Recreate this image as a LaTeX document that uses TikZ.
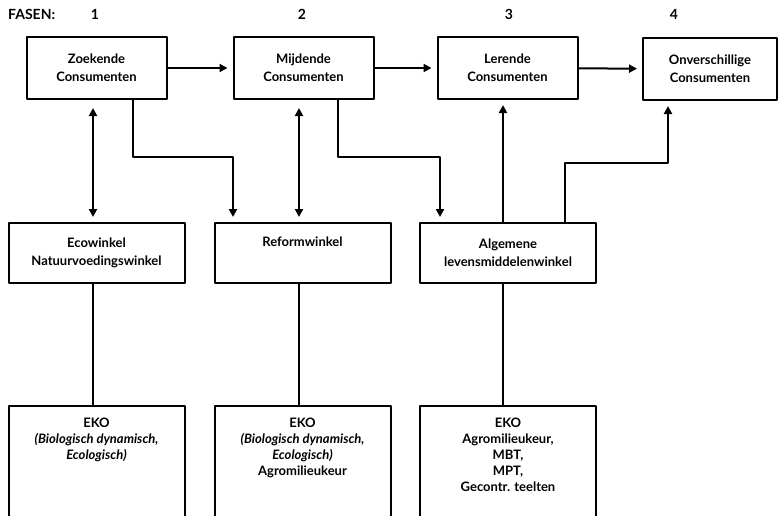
\documentclass[tikz,border=0pt]{standalone}
\usepackage{fontspec}
\setmainfont{Lato}
\usetikzlibrary{arrows.meta,positioning}

\begin{document}
\begin{tikzpicture}[line cap=round, line join=round, x=1pt, y=-1pt,
		caja/.style={draw, line width=2pt, align=center, inner sep=0pt, font=\bfseries\fontsize{13}{18}\selectfont},
		cajafase/.style={caja, minimum width=140pt, minimum height=62pt},
		cajatienda/.style={caja, minimum width=176pt, minimum height=60pt},
		cajaeko/.style={caja, minimum width=176pt, minimum height=140pt, anchor=north},
		textoeko/.style={align=center, inner sep=0pt, font=\bfseries\fontsize{13}{16}\selectfont},
		rotulo/.style={inner sep=0pt, font=\bfseries\fontsize{14}{16}\selectfont},
		flecha/.style={line width=2pt, -{Triangle[length=8pt,width=8pt]}, shorten >=5pt},
		dobleflecha/.style={flecha, {Triangle[length=8pt,width=8pt]}-{Triangle[length=8pt,width=8pt]}, shorten <=8pt},
		linea/.style={line width=2pt}]
		
		% Ventana de dibujo
		\useasboundingbox (0,0) rectangle (778,515);
		\clip (0,0) rectangle (778,515);
		
		% Fasen
		\node [rotulo, anchor=west] (fasen) at (8,14) {FASEN:};
		\node [rotulo] (f1) at (95,14) {1};
		\node [rotulo] (f2) at (302,14) {2};
		\node [rotulo] (f3) at (509,14) {3};
		\node [rotulo] (f4) at (674,14) {4};
		
		% Consumenten (bovenste rij)
		\node [cajafase] (zoek) at (96.5,68) {Zoekende\\Consumenten};
		\node [cajafase] (mijd) at (303.5,68) {Mijdende\\Consumenten};
		\node [cajafase] (leer) at (507.5,68) {Lerende\\Consumenten};
		\node [cajafase, minimum width=134pt] (onv) at (710,69) {Onverschillige\\Consumenten};
		
		% Winkels (middelste rij)
		\node [cajatienda] (eco) at (96.5,253) {Ecowinkel\\Natuurvoedingswinkel};
		\node [cajatienda] (reform) at (302.5,253) {Reformwinkel\\\strut};
		\node [cajatienda] (alg) at (508,253) {Algemene\\levensmiddelenwinkel};
		
		% Keurmerken (onderste rij, onderkant valt buiten beeld)
		\node [cajaeko] (eko1) at (96.5,405) {};
		\node [cajaeko] (eko2) at (302.5,405) {};
		\node [cajaeko] (eko3) at (508,405) {};
		\node [textoeko, below=13pt of eko1.north] (eko1txt) {EKO\\\textit{(Biologisch dynamisch,}\\\textit{Ecologisch)}};
		\node [textoeko, below=13pt of eko2.north] (eko2txt) {EKO\\\textit{(Biologisch dynamisch,}\\\textit{Ecologisch)}\\Agromilieukeur};
		\node [textoeko, below=13pt of eko3.north] (eko3txt) {EKO\\Agromilieukeur,\\MBT,\\MPT,\\Gecontr. teelten};
		
		% Overgang tussen de fasen
		\draw [flecha] (zoek) -- (mijd);
		\draw [flecha] (mijd) -- (leer);
		\draw [flecha] (leer) -- (onv);
		
		% Consumenten <-> winkels
		\draw [dobleflecha] (93,0 |- zoek.south) -- (93,0 |- eco.north);
		\draw [dobleflecha] (299,0 |- mijd.south) -- (299,0 |- reform.north);
		\draw [flecha] (133,0 |- zoek.south) -- ++(0,57) -| (233,0 |- reform.north);
		\draw [flecha] (338,0 |- mijd.south) -- ++(0,57) -| (440,0 |- alg.north);
		\draw [flecha] (503,0 |- alg.north) -- (503,0 |- leer.south);
		\draw [flecha] (565,0 |- alg.north) -- ++(0,-59) -| (668,0 |- onv.south);
		
		% Winkels -- keurmerken
		\draw [linea] (93,0 |- eco.south) -- (93,0 |- eko1.north);
		\draw [linea] (299,0 |- reform.south) -- (299,0 |- eko2.north);
		\draw [linea] (503,0 |- alg.south) -- (503,0 |- eko3.north);
		
	\end{tikzpicture}
\end{document}
